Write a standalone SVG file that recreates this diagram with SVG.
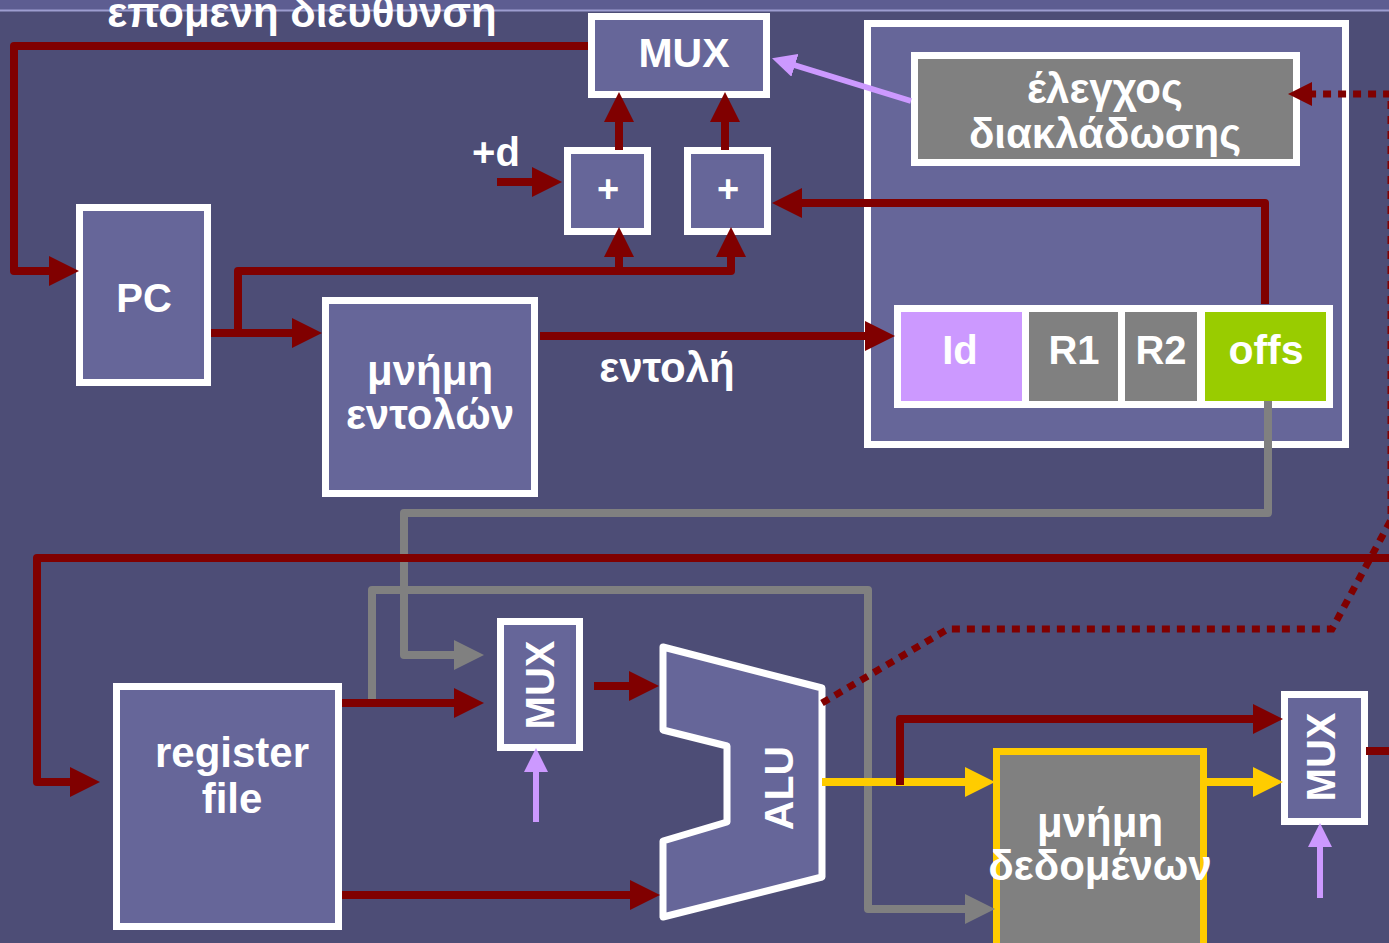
<svg xmlns="http://www.w3.org/2000/svg" width="1389" height="943" viewBox="0 0 1389 943">
<style>
.box{fill:#666699;stroke:#ffffff;stroke-width:7}
.gbox{fill:#808080;stroke:#ffffff;stroke-width:7}
.t{font-family:"Liberation Sans",Arial,sans-serif;font-weight:bold;fill:#ffffff;text-anchor:middle}
.red{fill:none;stroke:#800000;stroke-width:8;stroke-linejoin:round}
.gray{fill:none;stroke:#808080;stroke-width:8;stroke-linejoin:round}
.yel{fill:none;stroke:#ffcc00;stroke-width:8;stroke-linejoin:round}
.lav{fill:none;stroke:#cc99ff;stroke-width:6}
.dot{fill:none;stroke:#800000;stroke-width:7;stroke-dasharray:8 7}
</style>
<defs>
<marker id="ar" markerUnits="userSpaceOnUse" markerWidth="30" markerHeight="30" viewBox="0 0 30 30" refX="1" refY="15" orient="auto"><path d="M0,0 L30,15 L0,30 z" fill="#800000"/></marker>
<marker id="ag" markerUnits="userSpaceOnUse" markerWidth="30" markerHeight="30" viewBox="0 0 30 30" refX="1" refY="15" orient="auto"><path d="M0,0 L30,15 L0,30 z" fill="#808080"/></marker>
<marker id="ay" markerUnits="userSpaceOnUse" markerWidth="30" markerHeight="30" viewBox="0 0 30 30" refX="1" refY="15" orient="auto"><path d="M0,0 L30,15 L0,30 z" fill="#ffcc00"/></marker>
<marker id="al" markerUnits="userSpaceOnUse" markerWidth="24" markerHeight="24" viewBox="0 0 24 24" refX="1" refY="12" orient="auto"><path d="M0,0 L24,12 L0,24 z" fill="#cc99ff"/></marker>
<marker id="ad" markerUnits="userSpaceOnUse" markerWidth="24" markerHeight="24" viewBox="0 0 24 24" refX="1" refY="12" orient="auto"><path d="M0,0 L24,12 L0,24 z" fill="#800000"/></marker>
</defs>
<rect x="0" y="0" width="1389" height="943" fill="#4d4d76"/>
<rect x="0" y="0" width="1389" height="10" fill="#5d5d91"/>
<line x1="0" y1="10.5" x2="1389" y2="10.5" stroke="#9d9dd0" stroke-width="2"/>
<text class="t" x="302" y="27" font-size="42">επομενη διευθυνση</text>

<g id="control">
<rect class="box" x="867.5" y="23.5" width="478" height="421"/>
</g>
<g id="branch-control">
<rect class="gbox" x="914.5" y="55.5" width="382" height="107"/>
<text class="t" x="1105" y="103" font-size="42">έλεγχος</text>
<text class="t" x="1105" y="148" font-size="42">διακλάδωσης</text>
</g>
<g id="instr-reg">
<rect x="894" y="305" width="439" height="103" fill="#ffffff"/>
<rect x="901" y="312" width="121" height="89" fill="#cc99ff"/>
<rect x="1029" y="312" width="89" height="89" fill="#808080"/>
<rect x="1125" y="312" width="72" height="89" fill="#808080"/>
<rect x="1205" y="312" width="121" height="89" fill="#99cc00"/>
<text class="t" x="960" y="364" font-size="40">Id</text>
<text class="t" x="1074" y="364" font-size="40">R1</text>
<text class="t" x="1161" y="364" font-size="40">R2</text>
<text class="t" x="1266" y="364" font-size="41">offs</text>
</g>

<g id="mux-top">
<rect class="box" x="591.5" y="16.5" width="175" height="78"/>
<text class="t" x="684" y="67" font-size="41">MUX</text>
</g>
<g id="add1">
<rect class="box" x="567.5" y="150.5" width="80" height="81"/>
<text class="t" x="608" y="202" font-size="38">+</text>
</g>
<g id="add2">
<rect class="box" x="687.5" y="150.5" width="80" height="81"/>
<text class="t" x="728" y="202" font-size="38">+</text>
</g>
<text class="t" x="496" y="166" font-size="40">+d</text>
<g id="pc">
<rect class="box" x="79.5" y="207.5" width="128" height="175"/>
<text class="t" x="144" y="312" font-size="40">PC</text>
</g>
<g id="instr-mem">
<rect class="box" x="325.5" y="300.5" width="209" height="193"/>
<text class="t" x="430" y="385" font-size="42">μνήμη</text>
<text class="t" x="430" y="429" font-size="42">εντολών</text>
</g>
<text class="t" x="667" y="382" font-size="42">εντολή</text>
<g id="regfile">
<rect class="box" x="116.5" y="686.5" width="222" height="240"/>
<text class="t" x="232" y="767" font-size="42">register</text>
<text class="t" x="232" y="813" font-size="42">file</text>
</g>
<g id="mux-alu">
<rect class="box" x="500.5" y="621.5" width="79" height="126"/>
<text class="t" transform="translate(554,685) rotate(-90)" font-size="40">MUX</text>
</g>
<g id="alu">
<path d="M663,647 L822,688 L822,877 L663,917 L663,841 L727,822 L727,746 L663,730 Z" fill="#666699" stroke="#ffffff" stroke-width="7" stroke-linejoin="round"/>
<text class="t" transform="translate(793,788) rotate(-90)" font-size="41">ALU</text>
</g>
<g id="data-mem">
<rect x="996.5" y="751.5" width="207" height="200" fill="#808080" stroke="#ffcc00" stroke-width="7"/>
<text class="t" x="1100" y="837" font-size="42">μνήμη</text>
<text class="t" x="1100" y="880" font-size="42">δεδομένων</text>
</g>
<g id="mux-wb">
<rect class="box" x="1284.5" y="694.5" width="80" height="127"/>
<text class="t" transform="translate(1335,757) rotate(-90)" font-size="40">MUX</text>
</g>

<g id="connectors">
<path class="gray" d="M1268,401 L1268,513 L404,513 L404,655 L455,655" marker-end="url(#ag)"/>
<path class="gray" d="M372,703 L372,590 L868,590 L868,909 L966,909" marker-end="url(#ag)"/>
<path class="red" d="M588,46 L14,46 L14,271 L50,271" marker-end="url(#ar)"/>
<path class="red" d="M211,333 L293,333" marker-end="url(#ar)"/>
<path class="red" d="M238,333 L238,271 L731,271 L731,256" marker-end="url(#ar)"/>
<path class="red" d="M619,271 L619,256" marker-end="url(#ar)"/>
<path class="red" d="M497,182 L533,182" marker-end="url(#ar)"/>
<path class="red" d="M619,150 L619,121" marker-end="url(#ar)"/>
<path class="red" d="M725,150 L725,121" marker-end="url(#ar)"/>
<path class="red" d="M1265,304 L1265,203 L801,203" marker-end="url(#ar)"/>
<path class="red" d="M540,336 L866,336" marker-end="url(#ar)"/>
<path class="red" d="M1389,558 L37,558 L37,782 L71,782" marker-end="url(#ar)"/>
<path class="red" d="M342,703 L455,703" marker-end="url(#ar)"/>
<path class="red" d="M342,895 L631,895" marker-end="url(#ar)"/>
<path class="red" d="M594,686 L630,686" marker-end="url(#ar)"/>
<path class="yel" d="M822,782 L966,782" marker-end="url(#ay)"/>
<path class="red" d="M900,785 L900,719 L1254,719" marker-end="url(#ar)"/>
<path class="yel" d="M1207,782 L1254,782" marker-end="url(#ay)"/>
<path class="red" d="M1366,751 L1389,751"/>
<path class="dot" d="M822,703 L948,629 L1332,629 L1391,520 L1391,94 L1311,94" marker-end="url(#ad)"/>
<path class="lav" d="M911,101 L794,65" marker-end="url(#al)"/>
<path class="lav" d="M536,822 L536,771" marker-end="url(#al)"/>
<path class="lav" d="M1320,898 L1320,846" marker-end="url(#al)"/>
</g>
</svg>
